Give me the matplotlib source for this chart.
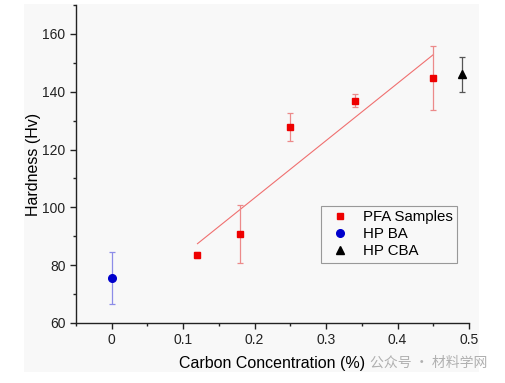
import numpy as np
import matplotlib
matplotlib.use("Agg")
import matplotlib.pyplot as plt
from matplotlib.patches import Rectangle
from matplotlib.ticker import MultipleLocator, FuncFormatter

plt.rcParams['font.family'] = ['Liberation Sans', 'Noto Sans CJK SC', 'DejaVu Sans']

# 数据
pfa_x = [0.12, 0.18, 0.25, 0.34, 0.45]
pfa_y = [83.6, 90.8, 127.8, 136.9, 144.7]
pfa_err = [1.0, 10.0, 5.0, 2.3, 11.0]

ba_x = [0.0]
ba_y = [75.5]
ba_err = [9.0]

cba_x = [0.49]
cba_y = [146.0]
cba_err = [6.0]

fig = plt.figure(figsize=(5.05, 3.83), dpi=100)
fig.patch.set_facecolor('white')
# 截图背景
fig.patches.append(Rectangle((24 / 505, 1 - 372 / 383), (479 - 24) / 505, (372 - 4) / 383,
                             transform=fig.transFigure, facecolor='#f8f8f8',
                             edgecolor='none', zorder=-10))

ax = fig.add_axes([76 / 505, 1 - 323 / 383, (469 - 76) / 505, (323 - 5) / 383])
ax.set_facecolor('#f8f8f8')

# 拟合线
k, b = np.polyfit(pfa_x, pfa_y, 1)
fx = np.array([min(pfa_x), max(pfa_x)])
ax.plot(fx, k * fx + b, color='#f07070', lw=0.8, zorder=2)

h1 = ax.errorbar(pfa_x, pfa_y, yerr=pfa_err, fmt='s', color='#ee0000', ms=5,
                 ecolor='#ec8a8a', elinewidth=0.9, capsize=2.5, capthick=0.9, zorder=3)
h2 = ax.errorbar(ba_x, ba_y, yerr=ba_err, fmt='o', color='#0000cc', ms=5.5,
                 ecolor='#8c8ce8', elinewidth=0.9, capsize=2.5, capthick=0.9, zorder=3)
h3 = ax.errorbar(cba_x, cba_y, yerr=cba_err, fmt='^', color='black', ms=6,
                 ecolor='#555555', elinewidth=0.9, capsize=2.5, capthick=0.9, zorder=3)

ax.set_xlim(-0.05, 0.5)
ax.set_ylim(60, 170)
ax.xaxis.set_major_locator(MultipleLocator(0.1))
ax.xaxis.set_minor_locator(MultipleLocator(0.05))
ax.yaxis.set_major_locator(MultipleLocator(20))
ax.yaxis.set_minor_locator(MultipleLocator(10))
ax.xaxis.set_major_formatter(FuncFormatter(lambda v, p: '0' if abs(v) < 1e-9 else f'{v:g}'))

for s in ['top', 'right']:
    ax.spines[s].set_visible(False)
for s in ['left', 'bottom']:
    ax.spines[s].set_linewidth(1.0)
    ax.spines[s].set_color('#222222')

ax.tick_params(which='major', direction='out', length=4, width=1, labelsize=10, colors='#222222')
ax.tick_params(which='minor', direction='out', length=2.5, width=1, colors='#222222')

ax.set_xlabel('Carbon Concentration (%)', fontsize=11.5, labelpad=6)
ax.set_ylabel('Hardness (Hv)', fontsize=11.5, labelpad=1)

leg = ax.legend([h1[0], h2[0], h3[0]], ['PFA Samples', 'HP BA', 'HP CBA'],
                loc='upper left', bbox_to_anchor=(0.623, 0.368), borderaxespad=0,
                fontsize=10.8, frameon=True, fancybox=False, edgecolor='#999999',
                facecolor='#f8f8f8', handlelength=2.0, handletextpad=0.5,
                borderpad=0.3, labelspacing=0.2, framealpha=1)
leg.get_frame().set_linewidth(0.8)

# 水印
fig.text(370 / 505, 1 - 363 / 383, '公众号 · 材料学网', fontsize=10, color='#b0b0b0',
         family=['Noto Sans CJK SC', 'DejaVu Sans'], va='center', ha='left')

fig.savefig('out.png', dpi=100, facecolor=fig.get_facecolor())
